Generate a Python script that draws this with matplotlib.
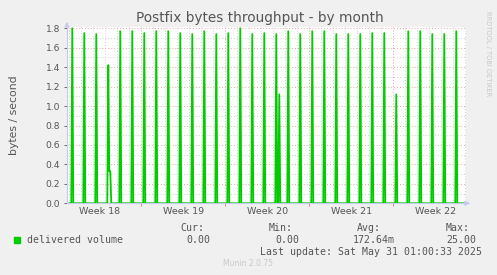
import numpy as np
import matplotlib.pyplot as plt

# daily spikes (day index, value at the 06:00 sample)
spike_day = list(range(33))
spike_peak = [1.80, 1.75, 1.74, 1.42, 1.77, 1.77, 1.75, 1.77, 1.77, 1.75, 1.74,
              1.77, 1.74, 1.75, 1.80, 1.74, 1.75, 1.74, 1.77, 1.74, 1.77, 1.77,
              1.74, 1.74, 1.74, 1.75, 1.75, 1.12, 1.77, 1.77, 1.74, 1.74, 1.77]
# extra samples: (day, sample of day, value)
extra = [(3, 4, 0.33), (3, 5, 0.33), (17, 6, 1.12)]

week_labels = ['Week 18', 'Week 19', 'Week 20', 'Week 21', 'Week 22']
week_start = [6, 13, 20, 27]

per_day = 12  # 2 hour samples
n = 33 * per_day + 2
vals = np.zeros(n)
for d, p in zip(spike_day, spike_peak):
    vals[d * per_day + 3] = p
for d, s, v in extra:
    vals[d * per_day + s] = v
t = np.arange(n) / per_day

fig = plt.figure(figsize=(4.97, 2.75), dpi=100, facecolor='#f0f0f0')
ax = fig.add_axes([67 / 497, 1 - 203.3 / 275, (466 - 67) / 497, (203.3 - 27) / 275])
ax.set_facecolor('white')
ax.set_xlim(-0.19, 33.06)
ax.set_ylim(0, 1.813)

dot = (0, (1, 2))
for y in np.arange(0.1, 1.81, 0.1):
    major = int(round(y * 10)) % 2 == 0
    ax.axhline(y, color='#e8a4a4' if major else '#cfcfcf', lw=0.7, ls=dot, zorder=0)
for d in range(0, 34):
    ax.axvline(d, color='#e8a4a4' if d in week_start else '#cfcfcf', lw=0.7, ls=dot, zorder=0)

ax.plot(t, vals, color='#00cc00', lw=1.3, zorder=3)

for s in ['top', 'right']:
    ax.spines[s].set_visible(False)
ax.spines['left'].set_color('#c8c8f0')
ax.spines['bottom'].set_color('#c8c8f0')
ax.spines['left'].set_linewidth(0.8)
ax.spines['bottom'].set_linewidth(0.8)

ax.annotate('', xy=(0, 1.045), xytext=(0, 0.99), xycoords='axes fraction',
            arrowprops=dict(arrowstyle='-|>', color='#c8c8f0', lw=0.8, mutation_scale=7),
            annotation_clip=False)
ax.annotate('', xy=(1.017, 0), xytext=(0.998, 0), xycoords='axes fraction',
            arrowprops=dict(arrowstyle='-|>', color='#c8c8f0', lw=0.8, mutation_scale=7),
            annotation_clip=False)

ax.set_yticks(np.arange(0, 1.81, 0.2))
ax.set_yticklabels([f'{v:.1f}' for v in np.arange(0, 1.81, 0.2)])
ax.tick_params(axis='y', labelsize=6.6, colors='#555555', length=2, width=0.6, pad=3)
ax.set_xticks(week_start)
ax.set_xticklabels([''] * len(week_start))
ax.tick_params(axis='x', length=2.5, width=0.7, color='#e08080')
ax.set_xticks([2.5 + 7 * i for i in range(5)], minor=True)
ax.set_xticklabels(week_labels, minor=True)
ax.tick_params(axis='x', which='minor', length=0, labelsize=6.8, labelcolor='#555555', pad=3)

fig.text(0.523, 1 - 18 / 275, 'Postfix bytes throughput - by month', ha='center', va='center',
         fontsize=9.8, color='#555555')
fig.text(14 / 497, 1 - 115 / 275, 'bytes / second', rotation=90, ha='center', va='center',
         fontsize=7.8, color='#555555')
fig.text(488 / 497, 1 - 54 / 275, 'RRDTOOL / TOBI OETIKER', rotation=270, ha='center',
         va='center', fontsize=4.8, color='#c8c8c8')

mono = dict(family='DejaVu Sans Mono', fontsize=7.1, color='#555555', va='center')
fig.patches.append(plt.Rectangle((14 / 497, 1 - 243 / 275), 6 / 497, 6 / 275,
                                 transform=fig.transFigure, color='#00cc00'))
fig.text(26.7 / 497, 1 - 239.7 / 275, 'delivered volume', ha='left', **mono)
heads = [('Cur:', 204), ('Min:', 292.7), ('Avg:', 381), ('Max:', 470)]
values = [('0.00', 210.3), ('0.00', 299), ('172.64m', 394.3), ('25.00', 476.7)]
for txt, x in heads:
    fig.text(x / 497, 1 - 228 / 275, txt, ha='right', **mono)
for txt, x in values:
    fig.text(x / 497, 1 - 239.7 / 275, txt, ha='right', **mono)
fig.text(482.3 / 497, 1 - 251.7 / 275, 'Last update: Sat May 31 01:00:33 2025', ha='right', **mono)
fig.text(247.7 / 497, 1 - 263.7 / 275, 'Munin 2.0.75', ha='center', va='center',
         fontsize=5.5, color='#c8c8c8')

fig.savefig('out.png', dpi=100, facecolor=fig.get_facecolor())
